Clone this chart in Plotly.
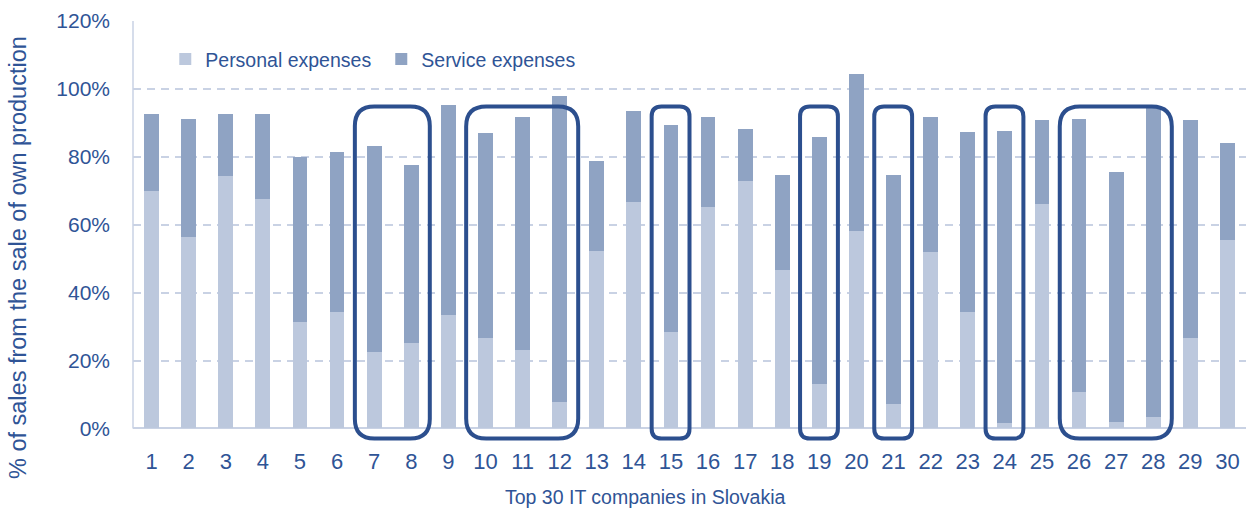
import plotly.graph_objects as go

companies = [str(i) for i in range(1, 31)]
personal = [70.0, 56.4, 74.3, 67.5, 31.3, 34.2, 22.4, 25.2, 33.5, 26.5,
            23.2, 7.8, 52.2, 66.8, 28.5, 65.3, 72.9, 46.8, 13.2, 58.2,
            7.1, 52.0, 34.2, 1.6, 66.1, 10.7, 1.9, 3.5, 26.5, 55.5]
service = [22.6, 34.8, 18.3, 25.1, 48.7, 47.1, 60.8, 52.5, 61.9, 60.4,
           68.5, 90.2, 26.5, 26.8, 61.0, 26.4, 15.4, 27.9, 72.7, 46.1,
           67.5, 39.8, 53.2, 86.0, 24.8, 80.5, 73.5, 91.0, 64.2, 28.7]
y_ticks = [0, 20, 40, 60, 80, 100, 120]
y_tick_text = ["0%", "20%", "40%", "60%", "80%", "100%", "120%"]
highlight_groups = [(7, 8), (10, 12), (15, 15), (19, 19), (21, 21), (24, 24), (26, 28)]

W, H = 1246, 511
ML, MR, MT, MB = 133, 0, 21, 69
Y_MIN, Y_MAX = -4, 120
X_MIN, X_MAX = 0.5, 30.5

TEXT = "#2F5496"
LIGHT = "#BCC8DD"
DARK = "#8FA3C3"
BOX = "#2C4F8E"
GRID = "#C9D2E4"

fig = go.Figure()
fig.add_trace(go.Bar(x=list(range(1, 31)), y=personal, name="Personal expenses",
                     marker=dict(color=LIGHT, line=dict(width=0)), width=0.4))
fig.add_trace(go.Bar(x=list(range(1, 31)), y=service, name="Service expenses",
                     marker=dict(color=DARK, line=dict(width=0)), width=0.4))

# rounded highlight boxes
pxx = (W - ML - MR) / (X_MAX - X_MIN)
pxy = (H - MT - MB) / (Y_MAX - Y_MIN)
shapes = []
for a, b in highlight_groups:
    x0, x1 = a - 0.52, b + 0.5
    y0, y1 = -3.0, 94.8
    r = min(20, (x1 - x0) * pxx * 0.26)
    rx, ry = r / pxx, r / pxy
    path = (f"M{x0+rx},{y1} L{x1-rx},{y1} Q{x1},{y1} {x1},{y1-ry} "
            f"L{x1},{y0+ry} Q{x1},{y0} {x1-rx},{y0} L{x0+rx},{y0} "
            f"Q{x0},{y0} {x0},{y0+ry} L{x0},{y1-ry} Q{x0},{y1} {x0+rx},{y1} Z")
    shapes.append(dict(type="path", path=path, xref="x", yref="y",
                       line=dict(color=BOX, width=4), fillcolor="rgba(0,0,0,0)",
                       layer="above"))
# left axis line from 0 to 120
shapes.append(dict(type="line", xref="paper", yref="y", x0=0, x1=0, y0=0, y1=120,
                   line=dict(color=GRID, width=1.5), layer="below"))

plot_w = W - ML - MR
plot_h = H - MT - MB

fig.update_layout(
    width=W, height=H,
    margin=dict(l=ML, r=MR, t=MT, b=MB),
    barmode="stack",
    plot_bgcolor="white", paper_bgcolor="white",
    font=dict(family="Liberation Sans, Arial, sans-serif", color=TEXT),
    shapes=shapes,
    legend=dict(orientation="h", x=0.029, y=0.955, xanchor="left", yanchor="top",
                font=dict(size=19.5, color=TEXT), bgcolor="rgba(0,0,0,0)",
                entrywidth=171, entrywidthmode="pixels", traceorder="normal"),
    xaxis=dict(range=[X_MIN, X_MAX], tickmode="array", tickvals=list(range(1, 31)),
               ticktext=companies, showgrid=False, showline=False, zeroline=False,
               tickfont=dict(size=22, color=TEXT), ticks="", ticklabelstandoff=4),
    yaxis=dict(range=[Y_MIN, Y_MAX], tickmode="array", tickvals=y_ticks,
               ticktext=y_tick_text, showgrid=True, gridcolor=GRID, gridwidth=2,
               griddash="8px,6px", zeroline=True, zerolinecolor=GRID, zerolinewidth=1.5,
               showline=False, tickfont=dict(size=21, color=TEXT), ticks="",
               ticklabelstandoff=22),
    annotations=[
        dict(text="Top 30 IT companies in Slovakia", xref="paper", yref="paper",
             x=(645 - ML) / plot_w, y=-(497 - (H - MB)) / plot_h,
             xanchor="center", yanchor="middle", showarrow=False,
             font=dict(size=19.5, color=TEXT)),
        dict(text="% of sales from the sale of own production", xref="paper", yref="paper",
             x=(18 - ML) / plot_w, y=1 - (258 - MT) / plot_h, textangle=-90,
             xanchor="center", yanchor="middle", showarrow=False,
             font=dict(size=23.5, color=TEXT)),
    ],
)
fig.write_html("out.html")
